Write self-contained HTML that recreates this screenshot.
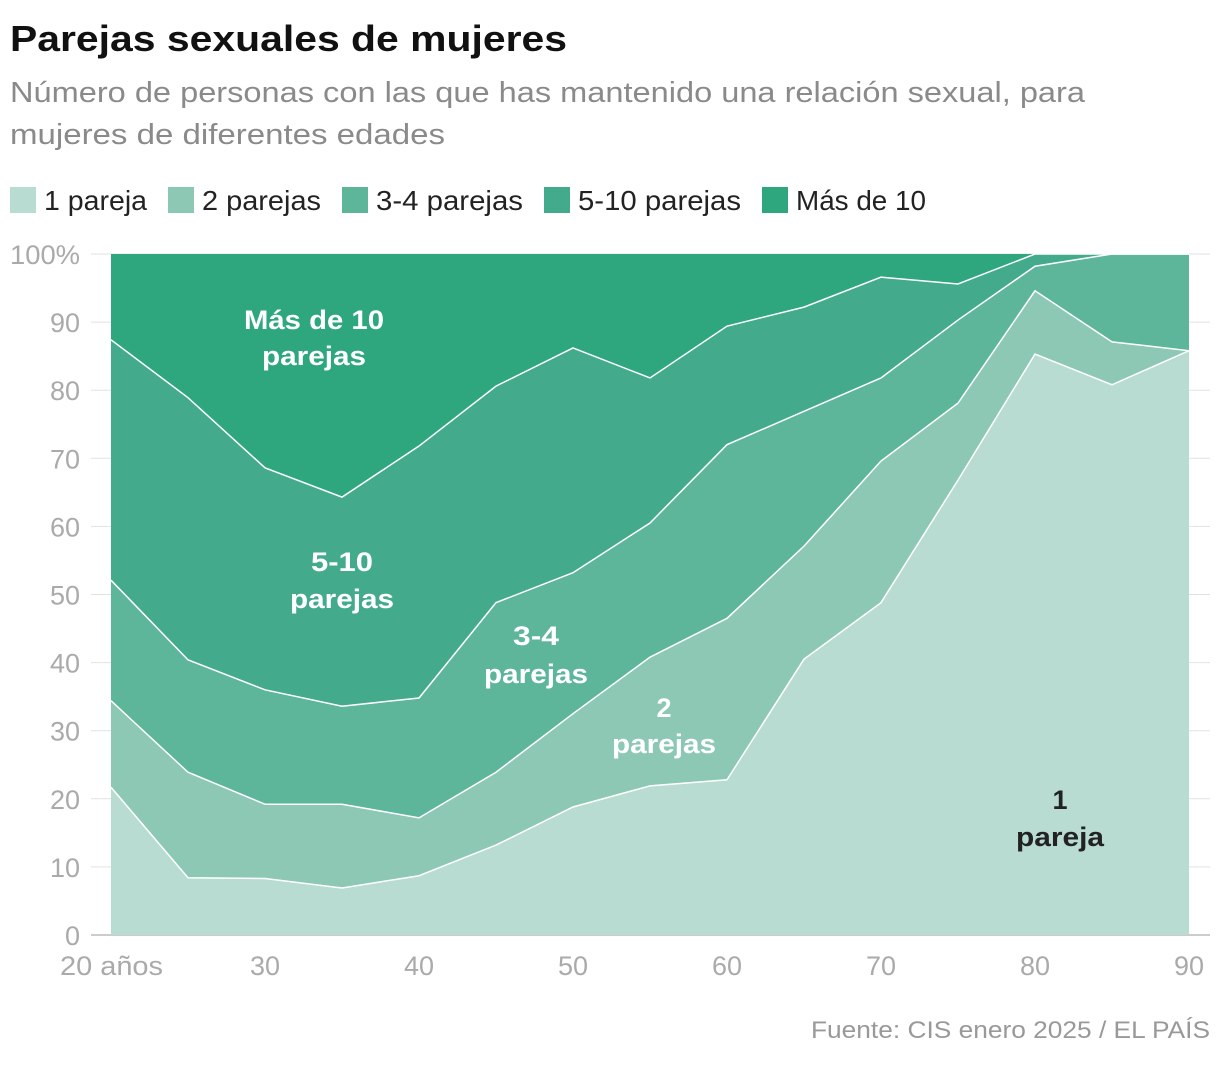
<!DOCTYPE html>
<html><head><meta charset="utf-8"><style>
body{margin:0;background:#fff;width:1220px;height:1060px;overflow:hidden;font-family:"Liberation Sans",sans-serif}
</style></head><body>
<svg width="1220" height="1060" id="svg" xmlns="http://www.w3.org/2000/svg">
<text x="10" y="51" font-size="36" font-weight="bold" fill="#111" textLength="557" lengthAdjust="spacingAndGlyphs">Parejas sexuales de mujeres</text>
<text x="10" y="102" font-size="29" fill="#8a8a8a" textLength="1075" lengthAdjust="spacingAndGlyphs">Número de personas con las que has mantenido una relación sexual, para</text>
<text x="10" y="144" font-size="29" fill="#8a8a8a" textLength="435" lengthAdjust="spacingAndGlyphs">mujeres de diferentes edades</text>
<g id="legend"></g>
<g id="grid"></g><g id="areas"></g><g id="lines"></g><g id="ticks"></g>
<g font-weight="bold" font-size="27" text-anchor="middle" fill="#fff" lengthAdjust="spacingAndGlyphs">
<text x="314" y="329" textLength="140" lengthAdjust="spacingAndGlyphs">Más de 10</text>
<text x="314" y="365" textLength="104" lengthAdjust="spacingAndGlyphs">parejas</text>
<text x="342" y="571" textLength="62" lengthAdjust="spacingAndGlyphs">5-10</text>
<text x="342" y="608" textLength="104" lengthAdjust="spacingAndGlyphs">parejas</text>
<text x="536" y="645" textLength="46" lengthAdjust="spacingAndGlyphs">3-4</text>
<text x="536" y="683" textLength="104" lengthAdjust="spacingAndGlyphs">parejas</text>
<text x="664" y="717">2</text>
<text x="664" y="753" textLength="104" lengthAdjust="spacingAndGlyphs">parejas</text>
<text x="1060" y="809" fill="#222">1</text>
<text x="1060" y="846" fill="#222" textLength="88" lengthAdjust="spacingAndGlyphs">pareja</text>
</g>
<text x="1210" y="1038" font-size="24" fill="#999" text-anchor="end" textLength="399" lengthAdjust="spacingAndGlyphs">Fuente: CIS enero 2025 / EL PAÍS</text>
</svg>
<script>
const ages=[20,25,30,35,40,45,50,55,60,65,70,75,80,85,90];
const l1=[21.7,8.4,8.3,6.9,8.7,13.2,18.8,21.9,22.8,40.5,48.8,66.8,85.3,80.8,85.8];
const l2=[12.7,15.5,10.9,12.3,8.5,10.7,13.7,18.9,23.7,16.6,20.8,11.3,9.3,6.3,0];
const l3=[17.7,16.5,16.8,14.4,17.6,24.9,20.7,19.7,25.5,19.8,12.2,12.2,3.6,12.9,14.2];
const l4=[35.3,38.5,32.6,30.7,37,31.8,33,21.3,17.4,15.3,14.8,5.3,1.8,0,0];
const l5=[12.6,21.1,31.4,35.7,28.2,19.4,13.8,18.2,10.6,7.8,3.4,4.4,0,0,0];
const names=["1 pareja","2 parejas","3-4 parejas","5-10 parejas","Más de 10"];
const yTicks=[0,10,20,30,40,50,60,70,80,90,100];
const xTicks=[20,30,40,50,60,70,80,90];
const colors=["#b9dcd2","#8cc8b4","#5db699","#43ab8b","#2ea67e"];
const NS="http://www.w3.org/2000/svg";
const X=a=>111+(a-20)*(1189-111)/70, Y=v=>935-v*6.81;
function mk(t,at,p){const e=document.createElementNS(NS,t);for(const k in at)e.setAttribute(k,at[k]);document.getElementById(p).appendChild(e);return e;}
yTicks.forEach(t=>{
 const l=mk('line',{x1:91,x2:1210,y1:Y(t),y2:Y(t),stroke:t==0?'#999':'#e2e2e2','stroke-width':1},'grid');
 
 
 const at={x:80,y:Y(t)+10,'font-size':27,fill:'#aaa','text-anchor':'end'};
 if(t==100){at.textLength=70;at.lengthAdjust='spacingAndGlyphs';}
 const tx=mk('text',at,'ticks');
 tx.textContent=t==100?'100%':t;
 
 
});
xTicks.forEach(t=>{
 const at={x:t==20?60:X(t),y:975,'font-size':27,fill:'#aaa','text-anchor':t==20?'start':'middle'};
 if(t==20){at.textLength=103;at.lengthAdjust='spacingAndGlyphs';}
 const tx=mk('text',at,'ticks');
 tx.textContent=t==20?'20 años':t;
 
 
});
const layers=[l1,l2,l3,l4,l5];
let base=ages.map(()=>0);
layers.forEach((L,i)=>{
 const top=base.map((b,j)=>b+L[j]);
 let d='M'+ages.map((a,j)=>X(a)+','+Y(top[j])).join('L');
 for(let j=ages.length-1;j>=0;j--)d+='L'+X(ages[j])+','+Y(base[j]);
 const p=mk('path',{d:d+'Z',fill:colors[i]},'areas');
 
 
 if(i<4){const ln=mk('polyline',{points:ages.map((a,j)=>X(a)+','+Y(top[j])).join(' '),fill:'none',stroke:'#fff','stroke-width':1.5},'lines');
 
 }
 base=top;
});
const lxs=[10,168,342,544,762];
const lws=[103,119,147,163,130];
names.forEach((n,i)=>{
 const r=mk('rect',{x:lxs[i],y:187,width:26,height:26,fill:colors[i]},'legend');
 
 
 const t=mk('text',{x:lxs[i]+34,y:210,'font-size':28,fill:'#222',textLength:lws[i],lengthAdjust:'spacingAndGlyphs'},'legend');
 t.textContent=n;
 
 
});
</script>
</body></html>
